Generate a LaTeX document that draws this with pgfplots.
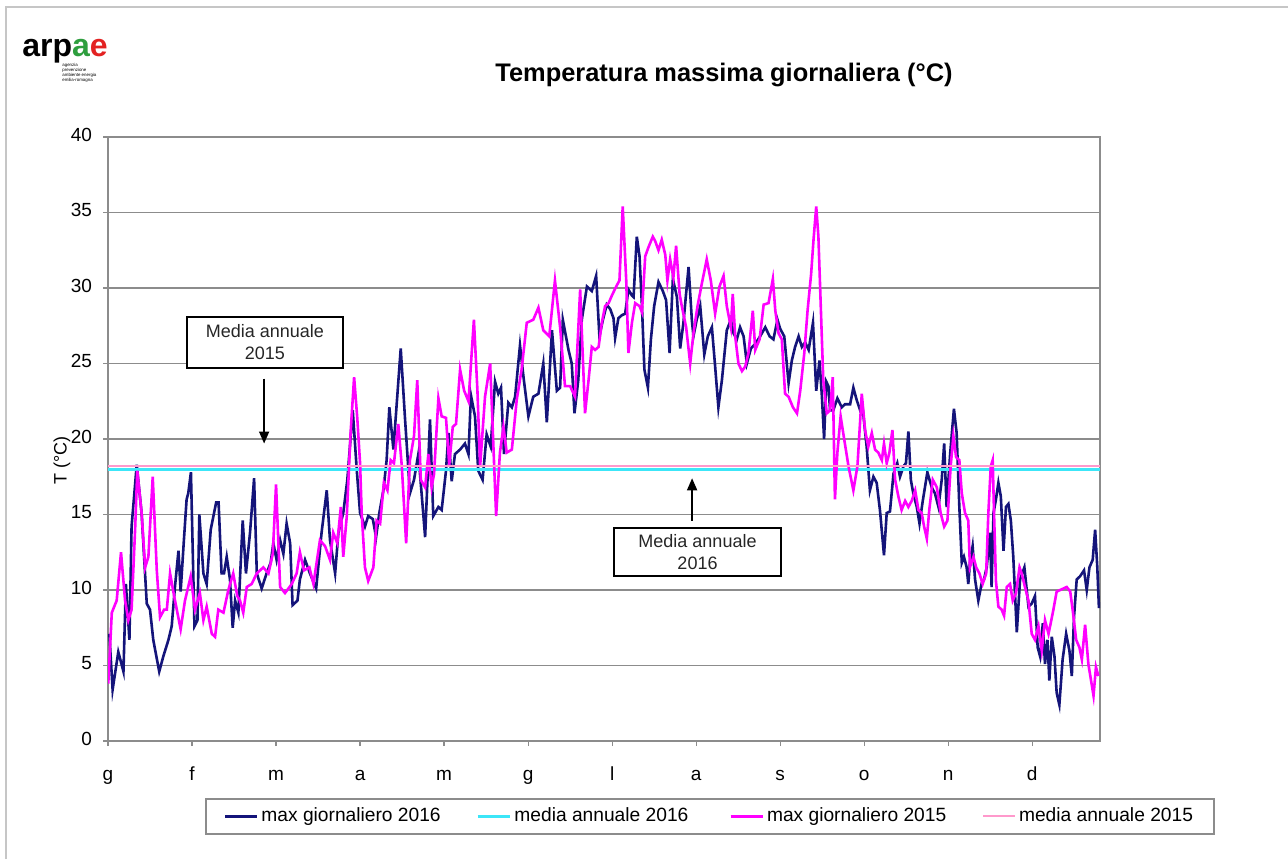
\documentclass[border=0pt]{standalone}
\usepackage{fontspec}
\setmainfont{Liberation Sans}
\usepackage{pgfplots}
\pgfplotsset{compat=1.18}
\usetikzlibrary{arrows.meta}
\definecolor{navyc}{HTML}{14147A}
\definecolor{magc}{HTML}{FF00FF}
\definecolor{cyanc}{HTML}{3CE6F8}
\definecolor{pinkc}{HTML}{FF99CC}
\definecolor{gridc}{HTML}{8C8C8C}
\definecolor{logogreen}{HTML}{2E9E3E}
\definecolor{logored}{HTML}{E32222}
\begin{document}
\begin{tikzpicture}
\useasboundingbox (0,0) rectangle (644pt,429.5pt);
\fill[white] (0,0) rectangle (644pt,429.5pt);
\draw[gray!45, line width=0.6pt] (3pt,0) -- (3pt,426pt) -- (644pt,426pt);
% logo
\node[anchor=base west, inner sep=0, font=\fontsize{16}{16}\selectfont\bfseries] at (11pt,401pt) {arp\textcolor{logogreen}{a}\textcolor{logored}{e}};
\node[anchor=north west, inner sep=0, align=left, font=\fontsize{2.2}{2.5}\selectfont] at (31pt,398pt) {agenzia\\prevenzione\\ambiente energia\\emilia-romagna};
% title
\node[font=\fontsize{12.7}{14}\selectfont\bfseries] at (362pt,392pt) {Temperatura massima giornaliera (°C)};
\begin{axis}[
  at={(54pt,59pt)}, anchor=south west,
  scale only axis, width=496pt, height=302pt,
  xmin=0, xmax=366, ymin=0, ymax=40,
  xtick={0,31,62,93,124,155,186,217,248,279,310,341},
  xticklabels={g,f,m,a,m,g,l,a,s,o,n,d},
  ytick={0,5,...,40},
  xtick pos=bottom, ytick pos=left,
  tick align=outside, major tick length=2.5pt,
  tick style={gridc, line width=0.6pt},
  ymajorgrids, grid style={gridc, line width=0.7pt},
  axis line style={gridc, line width=0.9pt},
  ticklabel style={font=\fontsize{9.5}{10}\selectfont},
  /pgf/number format/assume math mode=true,
  typeset ticklabels with strut,
  xticklabel style={yshift=-6.5pt},
  yticklabel style={xshift=-2pt},
  ylabel={T (°C)},
  ylabel style={at={(axis description cs:-0.0464,0.465)}, anchor=center, font=\fontsize{9}{10}\selectfont},
  legend columns=4,
  legend image code/.code={\draw[#1] (0pt,0pt) -- (16pt,0pt);},
  legend style={at={(axis description cs:0.0978,-0.0944)}, anchor=north west,
     draw=gridc, line width=0.8pt, inner xsep=9pt, inner ysep=3pt,
     font=\fontsize{9.6}{10}\selectfont, nodes={inner sep=1.5pt}},
  legend cell align=left,
]
\addplot[navyc, line width=1.3pt] coordinates {
(0.5,7.1) (1.7,3.4) (3.8,5.9) (5.7,4.6) (6.6,10.4) (7.9,6.7) (8.7,14.2) (10.6,18.3)
(12.4,15.1) (14.3,9.1) (15.5,8.7) (16.7,6.7) (18.9,4.6) (20.4,5.6) (22.3,6.7) (23.5,7.6)
(24.7,10.2) (26.0,12.6) (26.8,9.9) (28.0,13.3) (29.0,16.0) (29.6,16.4) (30.6,17.8) (31.9,7.6)
(33.0,8.0) (33.7,15.0) (35.2,11.1) (36.4,10.4) (37.9,14.0) (39.9,15.8) (40.8,15.8) (41.9,11.1)
(42.8,11.1) (43.8,12.2) (45.0,10.7) (46.0,7.5) (46.9,9.3) (48.1,8.5) (49.7,14.6) (50.9,11.1)
(52.4,13.8) (53.9,17.4) (54.9,11.1) (56.7,10.1) (58.5,11.1) (60.0,11.8) (61.0,13.1) (62.2,12.0)
(63.5,13.3) (64.7,12.4) (65.9,14.4) (67.2,13.1) (68.1,9.0) (69.9,9.3) (70.8,10.7) (72.7,12.0)
(74.5,11.1) (76.8,10.1) (78.8,13.8) (80.7,16.6) (81.9,13.3) (83.8,11.1) (85.0,13.8) (86.8,15.1)
(88.3,17.3) (90.3,21.9) (91.8,17.9) (93.0,15.1) (94.8,14.2) (96.0,14.9) (97.7,14.7) (98.9,13.5)
(100.1,15.1) (101.6,16.6) (102.8,18.6) (103.8,22.1) (105.3,19.3) (108.0,26.0) (109.6,21.3) (111.4,16.4)
(112.9,17.3) (114.5,19.0) (115.7,16.4) (117.0,13.5) (118.8,21.3) (120.0,14.9) (121.9,15.5) (123.1,15.3)
(124.7,17.9) (125.6,20.4) (126.8,17.2) (128.0,19.0) (129.9,19.3) (131.7,19.7) (133.0,19.0) (133.9,22.9)
(135.4,21.5) (136.6,17.9) (138.2,17.3) (139.7,20.3) (141.2,19.5) (142.8,23.8) (144.0,23.0) (145.0,23.4)
(146.1,19.0) (147.7,22.4) (149.0,22.1) (150.2,22.8) (152.0,26.2) (153.3,24.1) (155.1,21.5) (156.9,22.8)
(158.8,23.0) (160.6,25.0) (161.9,21.1) (163.8,27.2) (165.6,23.2) (166.8,23.4) (167.8,27.9) (169.9,25.9)
(171.1,25.0) (172.1,21.7) (173.5,23.9) (174.8,27.9) (176.7,30.1) (178.5,29.8) (180.1,30.8) (181.3,26.8)
(182.6,27.9) (184.0,28.9) (185.3,28.6) (186.5,28.0) (187.1,26.7) (188.3,28.0) (189.6,28.2) (190.8,28.3)
(192.0,29.9) (193.3,29.5) (193.9,29.4) (195.1,33.4) (196.1,32.1) (197.0,28.8) (197.9,24.6) (199.2,23.4)
(200.3,26.6) (201.5,28.8) (203.1,30.4) (204.7,29.8) (205.9,29.2) (207.2,25.7) (208.4,30.6) (209.9,29.4)
(211.1,26.0) (212.3,27.7) (214.2,31.4) (215.4,27.9) (216.0,26.8) (217.2,27.9) (218.5,28.8) (220.0,25.6)
(221.3,26.8) (222.8,27.4) (224.0,24.8) (225.2,22.1) (226.5,23.9) (228.3,27.2) (229.8,27.9) (230.8,27.0)
(232.0,26.6) (233.2,27.4) (234.5,26.8) (235.7,25.0) (237.2,26.0) (238.8,26.3) (240.6,26.8) (242.5,27.4)
(244.1,26.8) (245.5,26.6) (247.0,27.9) (248.0,27.3) (249.5,26.8) (251.1,23.7) (252.3,25.2) (253.5,26.1)
(254.8,26.8) (256.0,26.1) (257.2,26.4) (258.5,25.9) (260.1,27.7) (261.3,23.2) (262.5,25.2) (263.4,22.8)
(264.2,20.0) (265.0,23.8) (265.8,23.5) (266.4,21.9) (267.6,21.9) (269.1,22.7) (270.7,22.1) (271.9,22.3)
(273.8,22.3) (275.0,23.4) (276.2,22.6) (277.5,21.9) (278.4,22.1) (279.9,19.5) (281.1,16.6) (282.4,17.5)
(283.6,17.1) (284.8,15.3) (286.3,12.3) (287.3,15.1) (288.5,15.2) (289.8,17.7) (291.2,18.4) (292.2,17.5)
(293.5,18.2) (294.4,18.4) (295.3,20.5) (296.2,17.3) (297.1,16.4) (298.4,15.5) (299.4,14.4) (300.6,15.9)
(302.3,17.8) (303.9,16.8) (305.1,16.4) (306.4,15.5) (307.6,17.3) (308.5,19.7) (309.4,15.5) (310.7,19.0)
(312.1,22.0) (313.1,20.4) (314.1,15.5) (315.0,11.8) (315.8,12.2) (316.8,11.5) (317.4,10.4) (318.0,11.8)
(319.0,12.9) (319.9,10.7) (321.1,9.3) (322.4,10.5) (323.2,10.7) (324.2,11.5) (325.4,13.8) (326.0,10.2)
(326.7,15.1) (327.6,16.0) (328.5,17.1) (329.4,16.2) (330.4,12.6) (331.3,15.5) (332.2,15.7) (333.1,14.6)
(334.0,12.2) (335.3,7.2) (336.5,10.7) (338.1,11.5) (339.6,8.9) (340.8,9.1) (342.0,9.6) (343.0,6.2)
(343.9,5.6) (344.9,7.8) (345.7,5.1) (346.6,6.7) (347.3,4.0) (348.2,6.9) (349.2,5.6) (350.0,3.2)
(351.0,2.4) (352.2,5.4) (353.5,7.1) (354.7,6.0) (355.6,4.3) (356.4,8.2) (357.4,10.7) (358.6,10.9)
(360.1,11.3) (361.1,10.0) (362.1,11.5) (363.3,12.0) (364.2,14.0) (365.0,11.5) (365.6,8.8)
};
\addlegendentry{\makebox[106pt][l]{max giornaliero 2016}}
\addplot[cyanc, line width=1.5pt] coordinates {(0,18.0) (366,18.0)};
\addlegendentry{\makebox[106pt][l]{media annuale 2016}}
\addplot[magc, line width=1.3pt] coordinates {
(0.1,3.8) (1.4,8.5) (3.2,9.3) (4.8,12.5) (6.3,9.3) (7.5,8.0) (8.7,8.7) (10.0,14.0)
(10.8,17.9) (12.4,15.1) (13.7,11.5) (14.9,12.2) (16.5,17.5) (18.0,11.3) (19.2,8.2) (20.7,8.7)
(21.7,8.7) (22.9,11.1) (24.4,9.6) (25.6,8.5) (26.8,7.4) (28.4,9.3) (30.5,10.9) (32.1,8.7)
(33.9,9.8) (35.2,8.0) (36.4,8.9) (38.3,7.1) (39.5,6.9) (40.7,8.7) (42.6,8.5) (44.4,10.0)
(46.2,11.1) (47.7,9.6) (48.7,9.3) (49.9,8.5) (51.2,10.2) (53.0,10.4) (54.9,11.1) (57.3,11.5)
(59.2,11.1) (60.8,12.4) (62.0,17.0) (63.5,10.2) (65.3,9.8) (67.8,10.4) (69.6,11.1) (70.8,12.5)
(72.3,11.3) (74.3,11.5) (75.8,10.4) (78.2,13.3) (80.1,12.9) (81.9,12.0) (83.1,13.8) (84.6,13.1)
(85.9,15.5) (86.8,12.2) (88.1,14.9) (89.5,20.4) (90.8,24.1) (92.0,21.3) (93.0,18.4) (93.6,15.1)
(94.8,11.5) (96.0,10.6) (97.9,11.5) (99.1,14.6) (100.4,14.4) (101.8,17.1) (103.1,16.6) (104.3,18.6)
(105.5,18.4) (107.1,21.0) (108.4,18.2) (110.0,13.1) (111.4,18.6) (112.9,20.2) (114.1,23.9) (115.4,17.3)
(117.0,16.8) (118.2,19.0) (119.4,16.8) (120.3,17.7) (121.9,22.7) (123.1,21.5) (124.7,21.4) (125.9,18.3)
(127.2,20.8) (128.4,21.0) (129.9,24.6) (131.4,23.2) (133.0,22.5) (135.0,27.9) (136.3,23.2) (137.3,18.2)
(139.1,22.8) (141.0,25.0) (142.0,20.4) (143.2,14.9) (144.6,19.1) (145.9,20.8) (147.1,19.1) (149.0,19.3)
(150.8,22.6) (152.6,24.6) (154.5,27.7) (156.9,27.9) (158.8,28.7) (160.6,27.2) (162.8,26.8) (164.9,30.5)
(166.8,27.4) (168.6,23.5) (170.5,23.5) (172.3,22.8) (174.2,29.9) (176.0,21.7) (177.3,23.9) (178.5,26.1)
(179.7,25.9) (181.0,26.1) (182.2,27.7) (183.4,28.8) (184.7,29.0) (185.9,29.5) (187.5,30.1) (188.7,30.5)
(189.9,35.4) (191.2,30.5) (192.0,25.7) (193.3,27.7) (194.5,29.0) (196.1,28.8) (197.0,28.4) (198.2,32.1)
(199.4,32.7) (201.0,33.4) (201.9,33.1) (203.1,32.5) (204.3,33.2) (205.6,32.2) (206.4,30.5) (207.4,31.9)
(208.6,30.7) (209.6,32.8) (210.9,29.6) (211.7,28.8) (213.3,27.4) (214.8,25.0) (216.0,27.0) (217.5,28.8)
(219.1,30.3) (220.9,31.9) (222.4,30.5) (224.0,28.3) (225.6,30.1) (227.1,30.8) (228.3,28.8) (229.8,27.4)
(230.5,29.6) (231.4,26.8) (232.6,25.0) (233.9,24.5) (235.1,24.8) (236.3,25.7) (237.9,28.5) (238.8,25.9)
(240.4,26.6) (241.9,28.9) (243.7,29.0) (245.3,30.6) (246.2,28.5) (247.4,27.0) (248.6,26.6) (249.8,23.0)
(251.1,22.8) (252.7,22.1) (254.2,21.7) (255.4,23.2) (256.9,25.7) (258.1,28.5) (259.4,30.9) (260.3,33.2)
(261.3,35.4) (262.1,33.4) (263.9,23.9) (265.2,21.7) (266.4,21.9) (267.4,24.1) (268.2,16.0) (269.1,19.1)
(270.3,21.5) (271.6,20.0) (273.2,18.2) (275.0,16.6) (276.5,18.2) (278.1,23.0) (279.3,20.6) (280.5,19.5)
(281.8,20.4) (283.0,19.3) (284.2,19.1) (285.5,18.6) (286.3,19.7) (287.3,18.4) (288.3,19.1) (289.4,20.6)
(290.4,17.3) (291.6,16.2) (292.8,15.3) (294.1,15.9) (295.3,15.5) (296.5,15.9) (297.8,16.6) (299.0,15.3)
(300.2,15.1) (301.1,14.2) (302.1,13.4) (303.0,15.3) (304.3,17.3) (305.8,16.8) (307.2,15.1) (308.5,14.2)
(309.7,14.6) (310.9,18.2) (311.9,20.2) (312.9,18.8) (314.1,18.6) (315.0,16.4) (316.2,15.1) (317.4,14.6)
(318.0,11.5) (319.3,12.2) (320.3,11.5) (321.5,11.1) (322.7,10.4) (324.0,11.1) (324.8,15.1) (325.7,18.2)
(326.4,18.6) (326.9,15.1) (327.6,10.6) (328.5,8.9) (329.7,8.7) (330.6,8.3) (331.6,10.2) (332.8,10.4)
(333.8,9.3) (335.0,9.8) (336.3,11.5) (337.1,11.1) (338.3,10.2) (339.6,9.3) (340.8,7.1) (342.0,6.7)
(343.3,7.6) (344.5,6.0) (345.7,8.0) (347.0,7.1) (347.8,7.8) (348.8,8.7) (350.0,9.9) (351.3,10.0)
(352.5,10.1) (353.7,10.2) (355.0,9.9) (355.9,8.7) (357.2,6.7) (358.4,6.2) (359.3,5.4) (360.5,7.7)
(361.7,5.1) (362.7,4.0) (363.6,3.0) (364.5,4.9) (365.4,4.3)
};
\addlegendentry{\makebox[106pt][l]{max giornaliero 2015}}
\addplot[pinkc, line width=1.0pt] coordinates {(0,18.2) (366,18.2)};
\addlegendentry{media annuale 2015}
% annotations
\node[draw=black, line width=0.9pt, fill=white, minimum width=78pt, minimum height=25.5pt, inner sep=1pt,
      align=center, font=\fontsize{9}{11}\selectfont, text=black!85] at (axis cs:57.9,26.4) {Media annuale\\2015};
\draw[-{Triangle[length=6pt,width=5pt]}, line width=0.8pt] (axis cs:57.6,24.0) -- (axis cs:57.6,19.7);
\node[draw=black, line width=0.9pt, fill=white, minimum width=83.5pt, minimum height=24pt, inner sep=1pt,
      align=center, font=\fontsize{9}{11}\selectfont, text=black!85] at (axis cs:217.5,12.5) {Media annuale\\2016};
\draw[-{Triangle[length=6pt,width=5pt]}, line width=0.8pt] (axis cs:215.5,14.6) -- (axis cs:215.5,17.4);
\end{axis}
\end{tikzpicture}
\end{document}
